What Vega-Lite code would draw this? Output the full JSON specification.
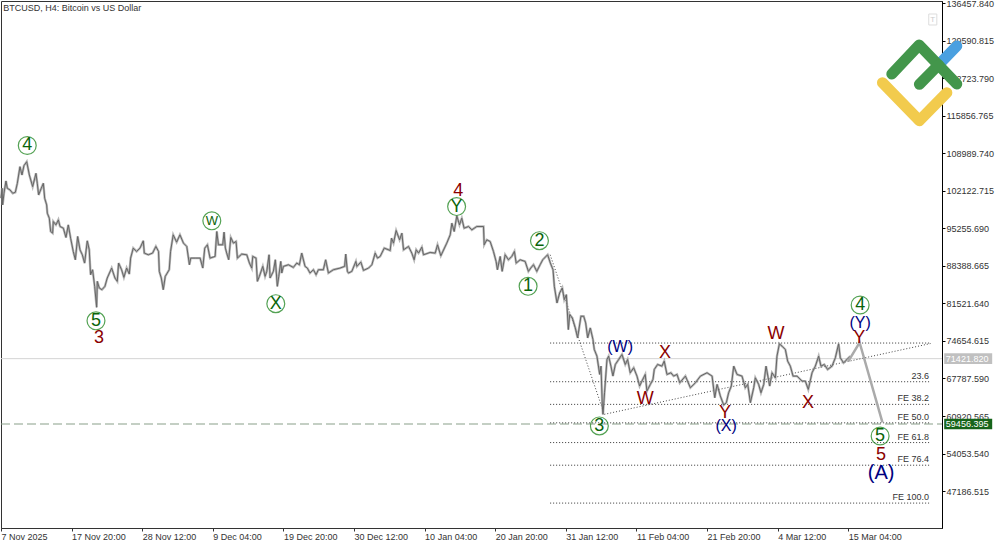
{
  "$schema": "https://vega.github.io/schema/vega-lite/v6.json",
  "width": 941,
  "height": 527,
  "autosize": "none",
  "padding": {"left": 1, "top": 1, "right": 58, "bottom": 17},
  "background": "white",
  "config": {
    "view": {"stroke": "#333333"},
    "font": "Liberation Sans"
  },
  "datasets": {
    "price": [
      {"b":0,"p":100800},{"b":1,"p":102616},{"b":1.5,"p":99573},{"b":2.7,"p":101703},{"b":4.5,"p":103955},{"b":5.7,"p":102616},{"b":8.2,"p":102312},{"b":10.6,"p":101703},{"b":13,"p":101886},{"b":14.8,"p":103529},{"b":17.2,"p":106573},{"b":19,"p":105051},{"b":20.8,"p":106755},{"b":23.3,"p":107486},{"b":25.7,"p":105051},{"b":28.7,"p":102920},{"b":31.7,"p":105355},{"b":32.9,"p":103529},{"b":34.1,"p":101398},{"b":36.5,"p":102616},{"b":38.4,"p":103529},{"b":39.6,"p":100790},{"b":41.4,"p":99573},{"b":42,"p":98051},{"b":43.8,"p":97138},{"b":45,"p":94703},{"b":46.8,"p":94399},{"b":47.4,"p":96529},{"b":49.8,"p":95920},{"b":52,"p":96833},{"b":53.5,"p":95616},{"b":56.5,"p":95312},{"b":58.9,"p":93607},{"b":61,"p":95920},{"b":63.1,"p":93486},{"b":65.5,"p":91051},{"b":67.4,"p":89529},{"b":69.5,"p":93790},{"b":71.6,"p":91355},{"b":73.7,"p":90442},{"b":75.8,"p":88920},{"b":78.2,"p":93000},{"b":80,"p":91355},{"b":81.2,"p":86790},{"b":83,"p":87703},{"b":84.9,"p":84659},{"b":86.7,"p":80825},{"b":87.3,"p":85572},{"b":89.1,"p":84355},{"b":91.5,"p":84051},{"b":94.2,"p":84659},{"b":96.3,"p":86181},{"b":100.3,"p":88007},{"b":103.3,"p":86181},{"b":105.4,"p":85572},{"b":106.6,"p":88920},{"b":109.3,"p":87703},{"b":111.4,"p":86303},{"b":113.9,"p":88007},{"b":116.3,"p":86912},{"b":117.5,"p":89833},{"b":119.9,"p":91659},{"b":122.9,"p":91051},{"b":126,"p":91659},{"b":129,"p":93000},{"b":129.9,"p":90746},{"b":133.5,"p":90442},{"b":137.4,"p":90746},{"b":140.4,"p":91964},{"b":142.8,"p":91051},{"b":143.5,"p":87399},{"b":145.3,"p":86181},{"b":147.1,"p":84051},{"b":148.9,"p":86486},{"b":152.5,"p":87703},{"b":153.7,"p":91051},{"b":156.1,"p":94094},{"b":159.2,"p":92755},{"b":162.2,"p":94094},
      {"b":165.4,"p":92573},{"b":168.4,"p":91964},{"b":170.8,"p":88616},{"b":172,"p":89834},{"b":176,"p":89834},{"b":180.5,"p":89834},{"b":182.9,"p":88008},{"b":184.7,"p":91660},{"b":187.1,"p":92269},{"b":189.5,"p":89834},{"b":194.1,"p":90138},{"b":195.6,"p":94703},{"b":197.1,"p":92269},{"b":201,"p":92269},{"b":202.2,"p":94582},{"b":203.4,"p":91660},{"b":204.6,"p":90747},{"b":206.4,"p":89529},{"b":208.3,"p":93608},{"b":210.7,"p":92573},{"b":213.1,"p":92877},{"b":214.3,"p":89834},{"b":218.2,"p":90564},{"b":222.8,"p":90443},{"b":225.2,"p":88921},{"b":227.3,"p":88008},{"b":228.2,"p":90138},{"b":231.2,"p":89834},{"b":232.4,"p":85573},{"b":234.2,"p":86486},{"b":237.3,"p":88312},{"b":239.4,"p":86486},{"b":240.9,"p":87399},{"b":243,"p":90443},{"b":243.9,"p":86182},{"b":246.9,"p":87399},{"b":248.7,"p":89529},{"b":250.5,"p":84660},{"b":251.8,"p":86486},{"b":253.6,"p":89225},{"b":254.5,"p":87095},{"b":256,"p":88312},{"b":260.5,"p":88617},{"b":265,"p":88130},{"b":268.1,"p":88921},{"b":270.5,"p":88617},{"b":272.6,"p":90747},{"b":275.6,"p":88312},{"b":277.7,"p":88008},{"b":280.1,"p":87095},{"b":283.2,"p":87703},{"b":285.6,"p":86791},{"b":287.7,"p":87703},{"b":292.2,"p":87703},{"b":294.3,"p":89529},{"b":296.8,"p":87095},{"b":301.3,"p":87703},{"b":307.3,"p":88008},{"b":311.5,"p":88312},{"b":312.5,"p":90564},{"b":314,"p":87399},
      {"b":315,"p":87095},{"b":318,"p":87399},{"b":321.7,"p":89225},{"b":322.6,"p":88312},{"b":326.2,"p":89103},{"b":328.6,"p":87582},{"b":333.2,"p":88008},{"b":336.2,"p":88617},{"b":339.2,"p":90747},{"b":341.3,"p":89834},{"b":343.7,"p":90138},{"b":347.4,"p":91660},{"b":352.8,"p":91234},{"b":354,"p":93486},{"b":355.8,"p":92573},{"b":358.2,"p":94886},{"b":361.3,"p":93182},{"b":363.4,"p":94399},{"b":364.9,"p":91355},{"b":369.4,"p":91964},{"b":372.4,"p":90747},{"b":374.5,"p":89529},{"b":376.4,"p":91355},{"b":378.5,"p":90747},{"b":381.5,"p":91843},{"b":383,"p":90443},{"b":389,"p":90869},{"b":393.6,"p":90747},{"b":395.7,"p":92269},{"b":398.7,"p":90260},{"b":404.1,"p":92573},{"b":407.2,"p":94095},{"b":408.7,"p":96225},{"b":410.8,"p":94703},{"b":413.2,"p":97564},{"b":415.6,"p":95921},{"b":417.7,"p":97138},{"b":419.8,"p":95312},{"b":423.8,"p":95617},{"b":426.8,"p":95008},{"b":431.3,"p":95617},{"b":437.4,"p":95617},{"b":438,"p":92269},{"b":440.4,"p":93182},{"b":443.4,"p":92877},{"b":446.4,"p":91051},{"b":448.8,"p":89225},{"b":450,"p":87704},{"b":452.5,"p":90138},{"b":454.3,"p":87400},{"b":457,"p":90443},{"b":460,"p":89529},{"b":463,"p":90138},{"b":465.4,"p":91051},{"b":467,"p":88921},{"b":470.6,"p":89529},{"b":475.1,"p":89225},{"b":478.1,"p":87399},{"b":480.2,"p":88008},{"b":482.7,"p":88617},{"b":485.7,"p":87399},{"b":488.7,"p":88617},{"b":491.1,"p":89529},{"b":495.5,"p":90443},{"b":498,"p":88921},
      {"b":500.4,"p":87704},{"b":501.6,"p":84660},{"b":504,"p":81617},{"b":506.4,"p":83443},{"b":508.8,"p":84356},{"b":510.6,"p":82225},{"b":512.5,"p":83139},{"b":514.3,"p":76747},{"b":515.5,"p":79486},{"b":517.9,"p":78878},{"b":520.6,"p":77051},{"b":522.7,"p":75226},{"b":525.7,"p":79182},{"b":528.2,"p":79182},{"b":530,"p":77965},{"b":531.8,"p":75226},{"b":534.2,"p":77051},{"b":536.6,"p":74921},{"b":537.8,"p":73095},{"b":540.2,"p":71878},{"b":542.7,"p":68530},{"b":543.9,"p":70051},{"b":545.1,"p":62747},{"b":545.7,"p":61226},{"b":547.1,"p":65182},{"b":549.3,"p":71269},{"b":550.8,"p":71878},{"b":552.9,"p":70051},{"b":554.7,"p":68226},{"b":556.9,"p":70356},{"b":559.9,"p":71269},{"b":562.9,"p":72182},{"b":565.9,"p":70356},{"b":568,"p":71269},{"b":570.4,"p":68834},{"b":573.5,"p":69747},{"b":576.5,"p":68226},{"b":578.9,"p":66400},{"b":581,"p":67312},{"b":584,"p":68530},{"b":585.5,"p":65486},{"b":588.6,"p":66704},{"b":591,"p":67617},{"b":592.2,"p":69443},{"b":595.2,"p":70356},{"b":599.1,"p":70051},{"b":601.2,"p":70964},{"b":603.7,"p":68530},{"b":607.3,"p":68834},{"b":609.7,"p":68226},{"b":612.8,"p":68531},
      {"b":615.3,"p":67009},{"b":620.4,"p":68226},{"b":624.9,"p":66096},{"b":629.5,"p":67009},{"b":634,"p":68226},{"b":640,"p":68835},{"b":644.6,"p":68226},{"b":647,"p":64269},{"b":649.1,"p":66705},{"b":652.1,"p":64574},{"b":655.1,"p":62930},{"b":657.5,"p":63357},{"b":659.6,"p":65183},{"b":662,"p":66400},{"b":664.2,"p":70052},{"b":667.2,"p":68531},{"b":671.7,"p":68226},{"b":674.7,"p":66096},{"b":676.9,"p":66705},{"b":679.3,"p":63357},{"b":682.3,"p":66096},{"b":683.8,"p":67922},{"b":686.8,"p":66705},{"b":688.9,"p":65183},{"b":691.4,"p":66705},{"b":693.5,"p":70052},{"b":696.8,"p":66400},{"b":698.9,"p":68835},{"b":702,"p":67922},{"b":703.4,"p":71878},{"b":705.6,"p":74131},{"b":708,"p":73705},{"b":711,"p":73096},{"b":713.1,"p":70966},{"b":715.5,"p":70052},{"b":718,"p":68226},{"b":721.6,"p":68226},{"b":726.1,"p":67313},{"b":729.1,"p":67313},{"b":731.8,"p":65791},{"b":735.2,"p":68835},{"b":738.2,"p":70052},{"b":741.2,"p":71878},{"b":743.3,"p":70052},{"b":746.3,"p":70357},{"b":749.3,"p":69444},{"b":753.3,"p":70052},{"b":756.3,"p":71574},{"b":759.3,"p":74131},{"b":760.8,"p":71574},{"b":763.8,"p":70661},{"b":766.9,"p":71270},{"b":769.9,"p":71878}
    ],
    "forecast": [
      {"b":768,"p":70904},{"b":778.3,"p":74374},{"b":799,"p":59765}
    ],
    "fib": [
      {"b":497.8,"b2":841.3,"p":74281,"name":""},
      {"b":497.8,"b2":841.3,"p":67196,"name":"23.6"},
      {"b":497.8,"b2":841.3,"p":63050,"name":"FE 38.2"},
      {"b":497.8,"b2":841.3,"p":59671,"name":"FE 50.0"},
      {"b":497.8,"b2":841.3,"p":56055,"name":"FE 61.8"},
      {"b":497.8,"b2":841.3,"p":51912,"name":"FE 76.4"},
      {"b":497.8,"b2":841.3,"p":44975,"name":"FE 100.0"}
    ],
    "trend": [
      {"seg":"a","b":497.8,"p":90443},{"seg":"a","b":546,"p":61775},
      {"seg":"b","b":546.9,"p":61226},{"seg":"b","b":842.6,"p":74190}
    ],
    "levels": [
      {"kind":"bid","b":0,"b2":853,"bx":855,"bx2":898.5,"bt":856.5,"p":71421.82,"lo":70451,"hi":72392,"name":"71421.820"},
      {"kind":"stop","b":0,"b2":853,"bx":855,"bx2":898.5,"bt":856.5,"p":59456.395,"lo":58486,"hi":60426,"name":"59456.395"}
    ],
    "logo": [
      {"part":"blue","b":851.3,"p":125501},{"part":"blue","b":866.4,"p":128669},
      {"part":"yellow","b":799,"p":121949},{"part":"yellow","b":832.5,"p":114991},{"part":"yellow","b":857.4,"p":120118},
      {"part":"green","b":807.5,"p":123542},{"part":"green","b":832.3,"p":128852},{"part":"green","b":866.4,"p":121711},
      {"part":"green2","b":832.5,"p":121656},{"part":"green2","b":849.8,"p":125190}
    ],
    "circled": [
      {"b":23.8,"p":110450,"t":"4"},{"b":86.1,"p":78350,"t":"5"},{"b":191.1,"p":96660,"t":"W"},{"b":249.1,"p":81480,"t":"X"},{"b":413,"p":99270,"t":"Y"},{"b":488.1,"p":93020,"t":"2"},{"b":477.8,"p":84670,"t":"1"},{"b":542.4,"p":59100,"t":"3"},{"b":778.8,"p":81250,"t":"4"},{"b":796.9,"p":57260,"t":"5"}
    ],
    "waves": [
      {"b":88.8,"p":75149,"t":"3","level":"minor"},
      {"b":414.6,"p":102174,"t":"4","level":"minor"},
      {"b":797.8,"p":53788,"t":"5","level":"minor"},
      {"b":583.9,"p":64035,"t":"W","level":"minor"},
      {"b":602,"p":72457,"t":"X","level":"minor"},
      {"b":656.4,"p":61471,"t":"Y","level":"minor"},
      {"b":702.6,"p":75936,"t":"W","level":"minor"},
      {"b":731.6,"p":63302,"t":"X","level":"minor"},
      {"b":777.9,"p":75204,"t":"Y","level":"minor"},
      {"b":561.2,"p":73618,"t":"(W)","level":"intermediate"},
      {"b":657.3,"p":59098,"t":"(X)","level":"intermediate"},
      {"b":778.8,"p":77958,"t":"(Y)","level":"intermediate"},
      {"b":797.8,"p":50492,"t":"(A)","level":"primary"}
    ],
    "header": [
      {"b":2,"p":135700,"t":"BTCUSD, H4:  Bitcoin vs US Dollar"}
    ],
    "tbutton": [
      {"b":841,"b2":848.3,"p":134526,"p2":132514,"pm":133520,"bm":844.6,"t":"T"}
    ]
  },
  "encoding": {
    "x": {
      "field": "b",
      "type": "quantitative",
      "title": null,
      "scale": {"domain": [0, 853], "nice": false, "zero": false},
      "axis": {
        "values": [0, 64, 128, 192, 256, 320, 384, 448, 512, 576, 640, 704, 768],
        "labelExpr": "['7 Nov 2025','17 Nov 20:00','28 Nov 12:00','9 Dec 04:00','19 Dec 20:00','30 Dec 12:00','10 Jan 04:00','20 Jan 20:00','31 Jan 12:00','11 Feb 04:00','21 Feb 20:00','4 Mar 12:00','15 Mar 04:00'][datum.value / 64]",
        "labelAlign": "left",
        "labelPadding": 1,
        "labelFontSize": 9,
        "labelColor": "#333333",
        "labelOverlap": false,
        "labelBound": false,
        "labelFlush": false,
        "tickSize": 3,
        "tickColor": "#333333",
        "domainColor": "#333333",
        "grid": false
      }
    },
    "y": {
      "field": "p",
      "type": "quantitative",
      "title": null,
      "scale": {"domain": [40414, 136908], "nice": false, "zero": false},
      "axis": {
        "orient": "right",
        "values": [136457.84, 129590.815, 122723.79, 115856.765, 108989.74, 102122.715, 95255.69, 88388.665, 81521.64, 74654.615, 67787.59, 60920.565, 54053.54, 47186.515],
        "format": ".3f",
        "labelPadding": 1,
        "labelFontSize": 9,
        "labelColor": "#333333",
        "labelOverlap": false,
        "labelBound": false,
        "labelFlush": false,
        "tickSize": 3,
        "tickColor": "#000000",
        "domainColor": "#000000",
        "grid": false
      }
    }
  },
  "layer": [
    {
      "data": {"name": "levels"},
      "transform": [{"filter": "datum.kind === 'bid'"}],
      "mark": {"type": "rule", "color": "#d4d4d4", "strokeWidth": 1},
      "encoding": {"x2": {"field": "b2"}}
    },
    {
      "data": {"name": "levels"},
      "transform": [{"filter": "datum.kind === 'stop'"}],
      "mark": {"type": "rule", "color": "#8aa08a", "strokeWidth": 1.2, "strokeDash": [9, 4]},
      "encoding": {"x2": {"field": "b2"}}
    },
    {
      "data": {"name": "fib"},
      "mark": {"type": "rule", "color": "#333333", "strokeWidth": 1, "strokeDash": [1, 2]},
      "encoding": {"x2": {"field": "b2"}}
    },
    {
      "data": {"name": "trend"},
      "mark": {"type": "line", "color": "#444444", "strokeWidth": 1, "strokeDash": [1, 2]},
      "encoding": {"detail": {"field": "seg"}}
    },
    {
      "data": {"name": "price"},
      "mark": {"type": "line", "color": "#a0a0a0", "strokeWidth": 2.4, "opacity": 0.75}
    },
    {
      "data": {"name": "price"},
      "mark": {"type": "line", "color": "#666666", "strokeWidth": 1}
    },
    {
      "data": {"name": "forecast"},
      "mark": {"type": "line", "color": "#aaaaaa", "strokeWidth": 2.5}
    },
    {
      "data": {"name": "levels"},
      "mark": {"type": "rect"},
      "encoding": {
        "x": {"field": "bx", "type": "quantitative"},
        "x2": {"field": "bx2"},
        "y": {"field": "lo", "type": "quantitative"},
        "y2": {"field": "hi"},
        "color": {
          "field": "kind",
          "type": "nominal",
          "legend": null,
          "scale": {"domain": ["bid", "stop"], "range": ["#c0c0c0", "#16641a"]}
        }
      }
    },
    {
      "data": {"name": "levels"},
      "mark": {"type": "text", "align": "left", "baseline": "middle", "fontSize": 9, "color": "white"},
      "encoding": {
        "x": {"field": "bt", "type": "quantitative"},
        "text": {"field": "name"}
      }
    },
    {
      "data": {"name": "fib"},
      "mark": {"type": "text", "align": "right", "baseline": "middle", "dy": -6, "fontSize": 9, "color": "#333333"},
      "encoding": {
        "x": {"field": "b2", "type": "quantitative"},
        "text": {"field": "name"}
      }
    },
    {
      "data": {"name": "header"},
      "mark": {"type": "text", "align": "left", "baseline": "middle", "fontSize": 9, "color": "#333333"},
      "encoding": {"text": {"field": "t"}}
    },
    {
      "data": {"name": "tbutton"},
      "mark": {"type": "rect", "fill": "white", "stroke": "#dddddd", "strokeWidth": 1},
      "encoding": {
        "x2": {"field": "b2"},
        "y": {"field": "p", "type": "quantitative"},
        "y2": {"field": "p2"}
      }
    },
    {
      "data": {"name": "tbutton"},
      "mark": {"type": "text", "baseline": "middle", "fontSize": 8, "color": "#cccccc"},
      "encoding": {
        "x": {"field": "bm", "type": "quantitative"},
        "y": {"field": "pm", "type": "quantitative"},
        "text": {"field": "t"}
      }
    },
    {
      "data": {"name": "logo"},
      "mark": {"type": "line", "strokeWidth": 11, "strokeCap": "round", "strokeJoin": "round"},
      "encoding": {
        "detail": {"field": "part"},
        "order": {"field": "b"},
        "color": {
          "field": "part",
          "type": "nominal",
          "legend": null,
          "scale": {"domain": ["blue", "yellow", "green", "green2"], "range": ["#4aa0e0", "#f2cb4d", "#43964b", "#43964b"]}
        }
      }
    },
    {
      "data": {"name": "circled"},
      "mark": {"type": "point", "shape": "circle", "size": 320, "stroke": "#0b7a0b", "strokeWidth": 1.2, "fill": null, "filled": false}
    },
    {
      "data": {"name": "circled"},
      "transform": [{"filter": "datum.t !== 'W'"}],
      "mark": {"type": "text", "baseline": "middle", "fontSize": 18, "color": "#0a640a"},
      "encoding": {"text": {"field": "t"}}
    },
    {
      "data": {"name": "circled"},
      "transform": [{"filter": "datum.t === 'W'"}],
      "mark": {"type": "text", "baseline": "middle", "fontSize": 13, "color": "#0a640a"},
      "encoding": {"text": {"field": "t"}}
    },
    {
      "data": {"name": "waves"},
      "transform": [{"filter": "datum.level === 'minor'"}],
      "mark": {"type": "text", "baseline": "middle", "fontSize": 18, "color": "#8b0000"},
      "encoding": {"text": {"field": "t"}}
    },
    {
      "data": {"name": "waves"},
      "transform": [{"filter": "datum.level === 'intermediate'"}],
      "mark": {"type": "text", "baseline": "middle", "fontSize": 16, "color": "#000080"},
      "encoding": {"text": {"field": "t"}}
    },
    {
      "data": {"name": "waves"},
      "transform": [{"filter": "datum.level === 'primary'"}],
      "mark": {"type": "text", "baseline": "middle", "fontSize": 20, "color": "#000080"},
      "encoding": {"text": {"field": "t"}}
    }
  ],
  "resolve": {"scale": {"color": "independent"}}
}
